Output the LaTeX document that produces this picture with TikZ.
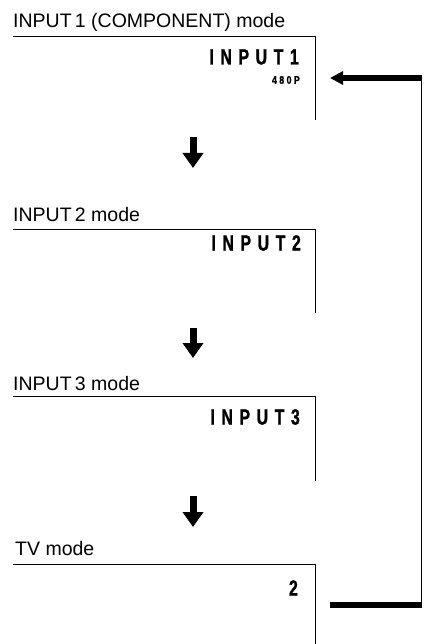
\documentclass[tikz,border=0pt]{standalone}
\usepackage{fontspec}
\setmainfont{Liberation Sans}
\newfontfamily\lcdfont[FakeStretch=0.72,LetterSpace=30,FakeBold=1.2]{Liberation Sans Bold}
\newfontfamily\lcdsmall[FakeStretch=0.8,LetterSpace=22,FakeBold=1]{Liberation Sans Bold}
\usetikzlibrary{arrows.meta, positioning, calc}

\begin{document}
\begin{tikzpicture}[
  x=1pt, y=-1pt,
  modelabel/.style={anchor=base west, inner sep=0pt, font=\fontsize{19.5}{21}\selectfont},
  frame/.style={line width=1pt},
  disp/.style={anchor=east, inner sep=0pt, font=\lcdfont\fontsize{22}{23}\selectfont},
  subdisp/.style={anchor=east, inner sep=0pt, font=\lcdsmall\fontsize{11}{12}\selectfont},
  stepdown/.style={line width=7pt, -{Triangle[width=20pt,length=15pt]}},
  loopbar/.style={line width=6pt},
  loopline/.style={line width=1.2pt}
]
  \useasboundingbox (0,0) rectangle (423,644);

  % panel corners (top right)
  \coordinate (c1) at (315,37);
  \coordinate (c2) at (315,229);
  \coordinate (c3) at (315,396);
  \coordinate (c4) at (315,564);

  \node[modelabel] (lab1) at (13,28) {INPUT\,1 (COMPONENT) mode};
  \node[modelabel] (lab2) at (13,221) {INPUT\,2 mode};
  \node[modelabel] (lab3) at (13,390) {INPUT\,3 mode};
  \node[modelabel] (lab4) at (15,555) {TV mode};

  \draw[frame] (13,37) -- (c1) -- ++(0,83);
  \draw[frame] (13,229) -- (c2) -- ++(0,84);
  \draw[frame] (13,396) -- (c3) -- ++(0,85);
  \draw[frame] (13,564) -- (c4) -- ++(0,80);

  \node[disp] (in1) at (299,57) {INPUT1};
  \node[subdisp] (fmt1) at (300,80) {480P};
  \node[disp] (in2) at (301,243) {INPUT2};
  \node[disp] (in3) at (300,417) {INPUT3};
  \node[disp] (tv) at (298,588) {2};

  % step arrows
  \coordinate (s1) at (193,137);
  \coordinate (e1) at (193,168);
  \coordinate (s2) at (193,328);
  \coordinate (e2) at (193,358);
  \coordinate (s3) at (193,496);
  \coordinate (e3) at (193,527);
  \draw[stepdown] (s1) -- (e1);
  \draw[stepdown] (s2) -- (e2);
  \draw[stepdown] (s3) -- (e3);

  % return loop
  \coordinate (back) at (330,605);
  \coordinate (turnlo) at (421.5,605);
  \coordinate (turnhi) at (421.5,78);
  \coordinate (ret) at (330,78);
  \draw[loopbar] (back) -- (turnlo);
  \draw[loopline] (turnlo) -- (turnhi);
  \draw[loopbar, -{Triangle[width=13pt,length=13pt]}] (turnhi) -- (ret);
\end{tikzpicture}
\end{document}
